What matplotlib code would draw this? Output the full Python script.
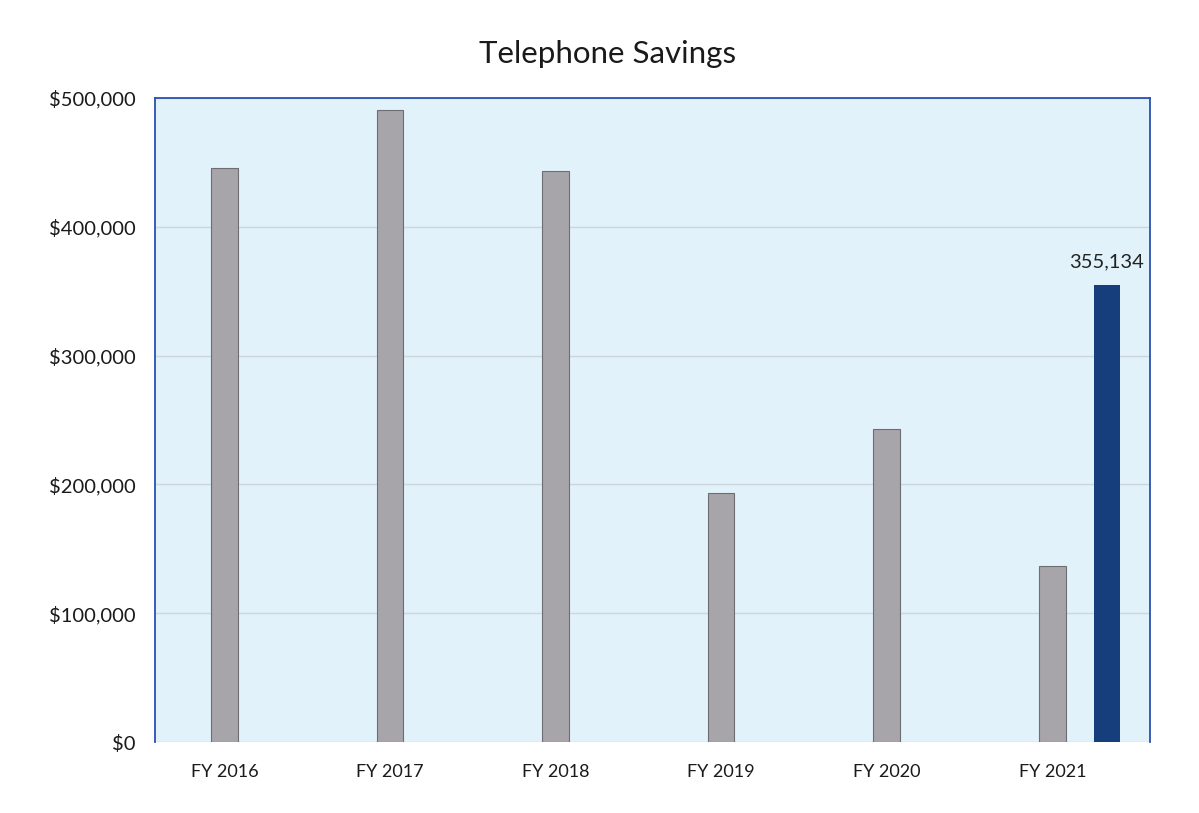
import numpy as np
import matplotlib.pyplot as plt

years = ['FY 2016', 'FY 2017', 'FY 2018', 'FY 2019', 'FY 2020', 'FY 2021']
savings = [445500, 491000, 443000, 193500, 243000, 137000]
current_label = 'FY 2021'
current_value = 355134

plt.rcParams['font.family'] = ['Lato', 'DejaVu Sans']

fig = plt.figure(figsize=(11.99, 8.13), dpi=100)
ax = fig.add_axes([0.1293, 0.0873, 0.8298, 0.7922])
ax.set_facecolor('#E2F2FB')

x = np.arange(len(years))
ax.bar(x, savings, width=0.16, color='#A7A5AA', edgecolor='#6E6E72', linewidth=0.8, zorder=3)
ix = years.index(current_label)
ax.bar(ix + 0.33, current_value, width=0.16, color='#173E7C', zorder=3)
ax.text(ix + 0.33, current_value + 11000, f'{current_value:,}', ha='center', va='bottom',
        fontsize=14.5, color='#222222')

ax.set_xlim(-0.42, 5.59)
ax.set_ylim(0, 500000)
ax.set_yticks(np.arange(0, 500001, 100000))
ax.set_yticklabels([f'${v:,.0f}' for v in np.arange(0, 500001, 100000)])
ax.set_xticks(x)
ax.set_xticklabels(years)
ax.tick_params(axis='both', length=0, colors='#1a1a1a')
ax.tick_params(axis='x', pad=16, labelsize=13)
ax.tick_params(axis='y', pad=14, labelsize=14.5)
ax.grid(axis='y', color='#CCD6DC', linewidth=1, zorder=0)

for side in ['left', 'top', 'right']:
    ax.spines[side].set_color('#2A4FB0')
    ax.spines[side].set_linewidth(1.3)
ax.spines['bottom'].set_visible(False)

fig.text(0.507, 0.934, 'Telephone Savings', ha='center', va='center', fontsize=22.5, color='#1a1a1a')

fig.savefig('out.png', dpi=100)
